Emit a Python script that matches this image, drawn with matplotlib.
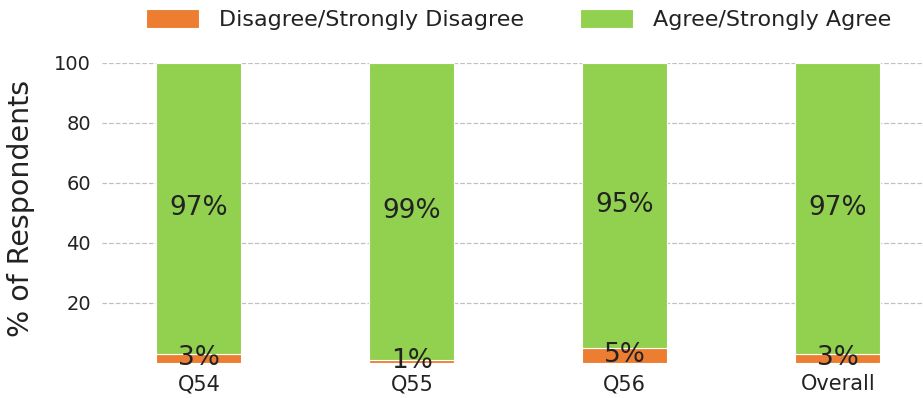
import matplotlib.pyplot as plt
import numpy as np

categories = ["Q54", "Q55", "Q56", "Overall"]
disagree = [3, 1, 5, 3]
agree = [97, 99, 95, 97]

orange = "#ED7D31"
green = "#92D050"
txt = "#222222"

fig = plt.figure(figsize=(9.23, 3.98), dpi=100)
ax = fig.add_axes([0.1105, 0.088, 0.8895, 0.754])

x = np.arange(len(categories))
b1 = ax.bar(x, disagree, width=0.4, color=orange, edgecolor="white", linewidth=0.8,
            label="Disagree/Strongly Disagree", zorder=3)
b2 = ax.bar(x, agree, width=0.4, bottom=disagree, color=green, edgecolor="white", linewidth=0.8,
            label="Agree/Strongly Agree", zorder=3)

for i in range(len(categories)):
    ax.text(x[i], disagree[i] / 2, f"{disagree[i]}%", ha="center", va="center",
            fontsize=19, color=txt, zorder=4)
    ax.text(x[i], disagree[i] + agree[i] / 2, f"{agree[i]}%", ha="center", va="center",
            fontsize=19, color=txt, zorder=4)

ax.set_xlim(-0.455, 3.4)
ax.set_ylim(0, 100)
ax.set_yticks([20, 40, 60, 80, 100])
ax.set_xticks(x)
ax.set_xticklabels(categories)
ax.tick_params(axis="both", length=0, labelcolor=txt)
ax.tick_params(axis="y", labelsize=14, pad=8)
ax.tick_params(axis="x", labelsize=15, pad=8)
ax.grid(axis="y", color="#c0c0c0", linestyle="--", linewidth=0.9, zorder=0)
for s in ax.spines.values():
    s.set_visible(False)
ax.set_ylabel("% of Respondents", fontsize=20.5, color=txt)
ax.yaxis.set_label_coords(-0.081, 0.515)

leg = fig.legend(handles=[b1, b2], loc="center", bbox_to_anchor=(0.562, 0.95), ncol=2,
                 frameon=False, fontsize=16, handlelength=2.4, handleheight=0.9,
                 handletextpad=0.9, columnspacing=2.5)
for t in leg.get_texts():
    t.set_color(txt)

fig.savefig("out.png", dpi=100)
